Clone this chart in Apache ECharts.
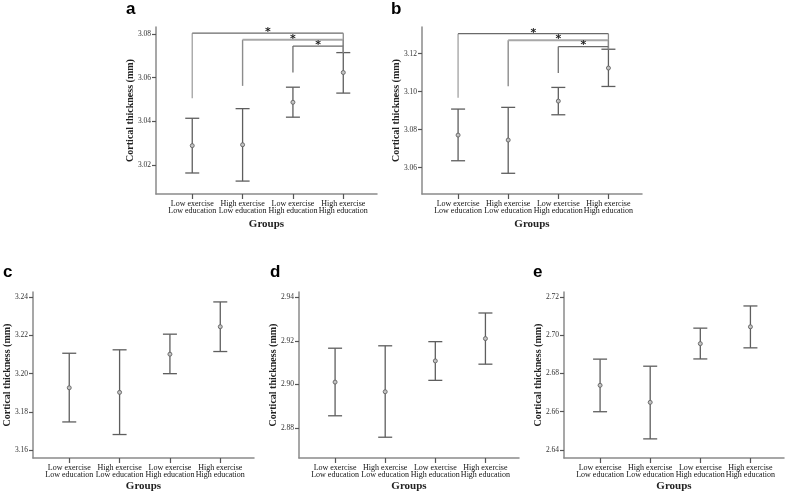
<!DOCTYPE html>
<html>
<head>
<meta charset="utf-8">
<script src="https://cdn.jsdelivr.net/npm/echarts@6/dist/echarts.min.js"></script>
<style>
  html, body { margin: 0; padding: 0; background: #fff; }
  #chart { width: 787px; height: 496px; }
</style>
</head>
<body>
<div id="chart"></div>
<script>
const groups = ['Low exercise\nLow education', 'High exercise\nLow education', 'Low exercise\nHigh education', 'High exercise\nHigh education'];
const groupPos = [0, 1, 2, 3];

// a
const aMean = [3.0289, 3.0293, 3.0487, 3.0623];
const aLow = [3.0164, 3.0127, 3.0419, 3.0529];
const aHigh = [3.0414, 3.0458, 3.0556, 3.0714];
const aTicks = [3.02, 3.04, 3.06, 3.08];
const aRange = [3.0068, 3.0831];
const aSigFrom = [0, 1, 2];
const aSigTop = [3.0803, 3.0773, 3.0744];
const aSigFoot = [3.0506, 3.0562, 3.0623];

// b
const bMean = [3.0771, 3.0745, 3.0950, 3.1124];
const bLow = [3.0636, 3.0570, 3.0878, 3.1027];
const bHigh = [3.0908, 3.0917, 3.1022, 3.1223];
const bTicks = [3.06, 3.08, 3.10, 3.12];
const bRange = [3.0461, 3.1340];
const bSigFrom = [0, 1, 2];
const bSigTop = [3.1305, 3.1270, 3.1237];
const bSigFoot = [3.0967, 3.1028, 3.1098];

// c
const cMean = [3.1926, 3.1902, 3.2102, 3.2246];
const cLow = [3.1747, 3.1681, 3.2000, 3.2116];
const cHigh = [3.2107, 3.2125, 3.2207, 3.2376];
const cTicks = [3.16, 3.18, 3.20, 3.22, 3.24];
const cRange = [3.1558, 3.2428];

// d
const dMean = [2.9011, 2.8967, 2.9108, 2.9210];
const dLow = [2.8857, 2.8759, 2.9019, 2.9093];
const dHigh = [2.9166, 2.9177, 2.9196, 2.9327];
const dTicks = [2.88, 2.90, 2.92, 2.94];
const dRange = [2.8664, 2.9423];

// e
const eMean = [2.6738, 2.6649, 2.6956, 2.7044];
const eLow = [2.6600, 2.6458, 2.6876, 2.6934];
const eHigh = [2.6875, 2.6838, 2.7037, 2.7153];
const eTicks = [2.64, 2.66, 2.68, 2.70, 2.72];
const eRange = [2.6358, 2.7226];

const panels = [
  { label: 'a', mean: aMean, low: aLow, high: aHigh, ticks: aTicks, range: aRange,
    sig: { from: aSigFrom, top: aSigTop, foot: aSigFoot },
    grid: { left: 156, top: 27, width: 221, height: 167 }, nameGap: 25, letter: [126, 18] },
  { label: 'b', mean: bMean, low: bLow, high: bHigh, ticks: bTicks, range: bRange,
    sig: { from: bSigFrom, top: bSigTop, foot: bSigFoot },
    grid: { left: 422, top: 27, width: 220, height: 167 }, nameGap: 25, letter: [391, 18] },
  { label: 'c', mean: cMean, low: cLow, high: cHigh, ticks: cTicks, range: cRange,
    grid: { left: 33, top: 292, width: 221, height: 166 }, nameGap: 23, letter: [3, 281] },
  { label: 'd', mean: dMean, low: dLow, high: dHigh, ticks: dTicks, range: dRange,
    grid: { left: 299, top: 292, width: 220, height: 166 }, nameGap: 23, letter: [270, 281] },
  { label: 'e', mean: eMean, low: eLow, high: eHigh, ticks: eTicks, range: eRange,
    grid: { left: 564, top: 292, width: 220, height: 166 }, nameGap: 23, letter: [533, 281] }
];

const serif = 'Liberation Serif';
const axisColor = '#8a8a8a';

function renderErrorBar(params, api) {
  const x = api.value(0);
  const lo = api.coord([x, api.value(1)]);
  const hi = api.coord([x, api.value(2)]);
  const mid = api.coord([x, api.value(3)]);
  const w = 7;
  const line = { stroke: '#5e5e5e', lineWidth: 1.3 };
  return {
    type: 'group',
    children: [
      { type: 'line', shape: { x1: hi[0], y1: hi[1], x2: lo[0], y2: lo[1] }, style: line },
      { type: 'line', shape: { x1: hi[0] - w, y1: hi[1], x2: hi[0] + w, y2: hi[1] }, style: line },
      { type: 'line', shape: { x1: lo[0] - w, y1: lo[1], x2: lo[0] + w, y2: lo[1] }, style: line },
      { type: 'circle', shape: { cx: mid[0], cy: mid[1], r: 2 }, style: { fill: '#c4c4c4', stroke: '#626262', lineWidth: 0.9 } }
    ]
  };
}

// bracket styles: horizontal line, left leg
const sigLineColor = ['#6a6a6a', '#a8a8a8', '#6a6a6a'];
const sigLineWidth = [1.2, 2, 1.2];
const sigLegColor = ['#a8a8a8', '#8c8c8c', '#7a7a7a'];

function renderBracket(params, api) {
  const i = params.dataIndex;
  const from = api.value(0);
  const to = api.value(1);
  const top = api.value(2);
  const foot = api.value(3);
  const rightFoot = api.value(4);
  const p1 = api.coord([from, top]);
  const p2 = api.coord([to, top]);
  const pf = api.coord([from, foot]);
  const pr = api.coord([to, rightFoot]);
  const pm = api.coord([(from + to) / 2, top]);
  return {
    type: 'group',
    children: [
      { type: 'line', shape: { x1: pf[0], y1: pf[1], x2: p1[0], y2: p1[1] }, style: { stroke: sigLegColor[i], lineWidth: 1.4 } },
      { type: 'line', shape: { x1: p1[0], y1: p1[1], x2: p2[0], y2: p2[1] }, style: { stroke: sigLineColor[i], lineWidth: sigLineWidth[i] } },
      { type: 'line', shape: { x1: p2[0], y1: p2[1], x2: pr[0], y2: pr[1] }, style: { stroke: '#8a8a8a', lineWidth: 1.3 } },
      { type: 'text', x: pm[0], y: pm[1] - 1, style: { text: '*', fill: '#222', font: 'bold 11px DejaVu Sans', align: 'center', verticalAlign: 'middle' } }
    ]
  };
}

const option = {
  animation: false,
  backgroundColor: '#fff',
  grid: [],
  xAxis: [],
  yAxis: [],
  series: [],
  graphic: []
};

panels.forEach((p, i) => {
  option.grid.push(Object.assign({ outerBoundsMode: 'none', containLabel: false }, p.grid));
  option.xAxis.push({
    gridIndex: i,
    type: 'value',
    min: -0.72,
    max: 3.67,
    splitLine: { show: false },
    axisLine: { show: true, onZero: false, lineStyle: { color: axisColor, width: 1.5 } },
    axisTick: { show: true, customValues: groupPos, length: 5, lineStyle: { color: '#555', width: 1.2 } },
    axisLabel: {
      customValues: groupPos,
      formatter: (v) => groups[Math.round(v)],
      fontFamily: serif,
      fontSize: 8,
      lineHeight: 7.5,
      color: '#111',
      margin: 6
    },
    name: 'Groups',
    nameLocation: 'middle',
    nameGap: p.nameGap,
    nameMoveOverlap: false,
    nameTextStyle: { fontFamily: serif, fontSize: 11, fontWeight: 'bold', color: '#222' }
  });
  option.yAxis.push({
    gridIndex: i,
    type: 'value',
    min: p.range[0],
    max: p.range[1],
    splitLine: { show: false },
    axisLine: { show: true, onZero: false, lineStyle: { color: axisColor, width: 1.5 } },
    axisTick: { show: true, customValues: p.ticks, length: 4, lineStyle: { color: '#555', width: 1.2 } },
    axisLabel: {
      customValues: p.ticks,
      formatter: (v) => v.toFixed(2),
      fontFamily: serif,
      fontSize: 7.5,
      color: '#333',
      margin: 5
    },
    name: 'Cortical thickness (mm)',
    nameLocation: 'middle',
    nameRotate: 90,
    nameGap: 21,
    nameMoveOverlap: false,
    nameTextStyle: { fontFamily: serif, fontSize: 10, fontWeight: 'bold', color: '#222' }
  });
  option.series.push({
    type: 'custom',
    xAxisIndex: i,
    yAxisIndex: i,
    renderItem: renderErrorBar,
    encode: { x: 0, y: [1, 2, 3] },
    clip: false,
    data: groupPos.map((g, k) => [g, p.low[k], p.high[k], p.mean[k]])
  });
  if (p.sig) {
    option.series.push({
      type: 'custom',
      xAxisIndex: i,
      yAxisIndex: i,
      renderItem: renderBracket,
      encode: { x: [0, 1], y: [2, 3, 4] },
      clip: false,
      data: p.sig.from.map((f, k) => [f, 3, p.sig.top[k], p.sig.foot[k], p.high[3]])
    });
  }
  option.graphic.push({
    type: 'text',
    x: p.letter[0],
    y: p.letter[1],
    style: { text: p.label, font: 'bold 17px Liberation Sans', fill: '#000', verticalAlign: 'bottom' }
  });
});

const chart = echarts.init(document.getElementById('chart'), null, { renderer: 'canvas' });
chart.setOption(option);
window.addEventListener('resize', () => chart.resize());
</script>
</body>
</html>
